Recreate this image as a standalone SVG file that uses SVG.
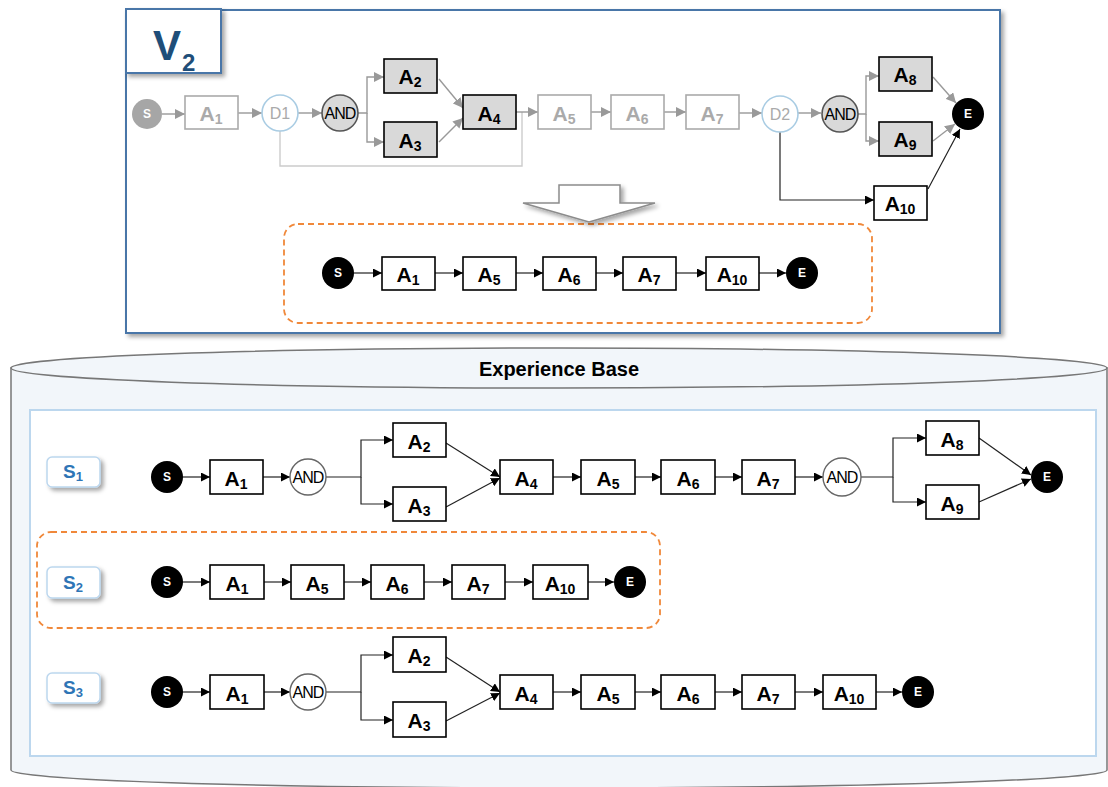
<svg xmlns="http://www.w3.org/2000/svg" width="1108" height="787" viewBox="0 0 1108 787">
<style>
text{font-family:"Liberation Sans",Arial,sans-serif}
.bx{fill:#fff;stroke:#000;stroke-width:1.6}
.gb{fill:#d9d9d9;stroke:#000;stroke-width:1.6}
.fb{fill:#fff;stroke:#aaa;stroke-width:1.6}
.lb{font-size:21px;font-weight:bold;text-anchor:middle;fill:#000}
.fl{fill:#aaa}
.sub{font-size:14px}
.blk{fill:#000}
.se{font-size:12px;font-weight:bold;fill:#fff;text-anchor:middle}
.and{fill:#fff;stroke:#666;stroke-width:1.4}
.gand{fill:#d9d9d9;stroke:#555;stroke-width:1.6}
.at{font-size:16px;text-anchor:middle;fill:#000;letter-spacing:-1px}
.dd{fill:#fff;stroke:#a9cce3;stroke-width:1.6}
.dt{font-size:16px;text-anchor:middle;fill:#aaa}
.c{fill:none;stroke:#222;stroke-width:1.2}
.cg{fill:none;stroke:#999;stroke-width:1.4}
.cl{fill:none;stroke:#ccc;stroke-width:1.4}
.dash{fill:none;stroke:#f0883a;stroke-width:1.8;stroke-dasharray:6 4}
.slb{fill:#fff;stroke:#bcd7ee;stroke-width:1.5}
.st{font-size:19px;font-weight:bold;fill:#2e75b6;text-anchor:middle}
</style>
<defs>
<marker id="ab" viewBox="0 0 10 10" refX="10" refY="5" markerWidth="9" markerHeight="9" markerUnits="userSpaceOnUse" orient="auto"><path d="M0,0 L10,5 L0,10 z" fill="#000"/></marker>
<marker id="ag" viewBox="0 0 10 10" refX="10" refY="5" markerWidth="10" markerHeight="10" markerUnits="userSpaceOnUse" orient="auto"><path d="M0,0 L10,5 L0,10 z" fill="#999"/></marker>
<filter id="sh" x="-10%" y="-10%" width="130%" height="140%"><feDropShadow dx="3" dy="3" stdDeviation="2" flood-color="#000" flood-opacity="0.35"/></filter>
</defs>

<!-- Experience base cylinder -->
<g id="cylinder">
<path d="M11,368 L11,770 A548,18 0 0 0 1107,770 L1107,368 Z" fill="#f2f6fa" stroke="#777" stroke-width="1.5"/>
<ellipse cx="559" cy="368" rx="548" ry="20" fill="#f2f6fa" stroke="#777" stroke-width="1.5"/>
<text x="559" y="376" font-size="20" font-weight="bold" text-anchor="middle" fill="#000">Experience Base</text>
<rect x="30" y="410" width="1066" height="346" fill="#fff" stroke="#bcd7ee" stroke-width="2"/>
</g>

<!-- Top panel -->
<g id="v2-panel">
<rect x="126" y="10" width="874" height="323" fill="#fff" stroke="#4a76a8" stroke-width="2" filter="url(#sh)"/>
<rect x="126" y="9" width="95" height="64" fill="#fff" stroke="#4a76a8" stroke-width="2" filter="url(#sh)"/>
<text x="167" y="60" font-size="42" font-weight="bold" fill="#1f4e79" text-anchor="middle">V</text>
<text x="182" y="71" font-size="24" font-weight="bold" fill="#1f4e79">2</text>
</g>

<rect class="dash" x="284" y="224" width="588" height="99" rx="14"/>
<rect class="dash" x="37" y="532" width="623" height="96" rx="14"/>

<g id="block-arrow">
<polygon points="559,185 620,185 620,203 655,203 589,222 523,203 559,203" fill="#fff" stroke="#8c8c8c" stroke-width="1.5" filter="url(#sh)"/>
</g>

<g id="connectors">
<!-- V2 graph -->
<path class="cl" d="M280,131 V166 H522 V112"/>
<path class="cg" d="M162,114 H185" marker-end="url(#ag)"/>
<path class="cg" d="M238,113 H262" marker-end="url(#ag)"/>
<path class="cg" d="M298,113 H322" marker-end="url(#ag)"/>
<path class="cg" d="M358,113 H367 V77 H384" marker-end="url(#ag)"/>
<path class="cg" d="M367,113 V142 H384" marker-end="url(#ag)"/>
<path class="cg" d="M439,79 L463,108" marker-end="url(#ag)"/>
<path class="cg" d="M439,142 L463,118" marker-end="url(#ag)"/>
<path class="cg" d="M516,112 H538" marker-end="url(#ag)"/>
<path class="cg" d="M591,112 H611" marker-end="url(#ag)"/>
<path class="cg" d="M664,112 H686" marker-end="url(#ag)"/>
<path class="cg" d="M739,113 H762" marker-end="url(#ag)"/>
<path class="cg" d="M798,113 H821" marker-end="url(#ag)"/>
<path class="cg" d="M858,114 H866 V76 H879" marker-end="url(#ag)"/>
<path class="cg" d="M866,114 V141 H879" marker-end="url(#ag)"/>
<path class="cg" d="M933,77 L956,103" marker-end="url(#ag)"/>
<path class="cg" d="M933,141 L955,124" marker-end="url(#ag)"/>
<path class="c" d="M780,132 V200 H874" marker-end="url(#ab)"/>
<path class="c" d="M928,189 L960,129" marker-end="url(#ab)"/>
<!-- result row -->
<path class="c" d="M354,273 H382" marker-end="url(#ab)"/>
<path class="c" d="M435,273 H463" marker-end="url(#ab)"/>
<path class="c" d="M516,273 H543" marker-end="url(#ab)"/>
<path class="c" d="M596,273 H623" marker-end="url(#ab)"/>
<path class="c" d="M676,273 H706" marker-end="url(#ab)"/>
<path class="c" d="M759,273 H786" marker-end="url(#ab)"/>
<!-- S1 -->
<path class="c" d="M183,477 H210" marker-end="url(#ab)"/>
<path class="c" d="M263,477 H290" marker-end="url(#ab)"/>
<path class="c" d="M326,477 H361 V440 H393" marker-end="url(#ab)"/>
<path class="c" d="M361,477 V504 H393" marker-end="url(#ab)"/>
<path class="c" d="M446,443 L500,477" marker-end="url(#ab)"/>
<path class="c" d="M446,507 L500,478" marker-end="url(#ab)"/>
<path class="c" d="M553,477 H581" marker-end="url(#ab)"/>
<path class="c" d="M635,477 H661" marker-end="url(#ab)"/>
<path class="c" d="M715,477 H742" marker-end="url(#ab)"/>
<path class="c" d="M795,477 H823" marker-end="url(#ab)"/>
<path class="c" d="M861,477 H893 V438 H926" marker-end="url(#ab)"/>
<path class="c" d="M893,477 V502 H926" marker-end="url(#ab)"/>
<path class="c" d="M979,438 L1031,475" marker-end="url(#ab)"/>
<path class="c" d="M979,502 L1031,479" marker-end="url(#ab)"/>
<!-- S2 -->
<path class="c" d="M183,582 H210" marker-end="url(#ab)"/>
<path class="c" d="M264,582 H291" marker-end="url(#ab)"/>
<path class="c" d="M344,582 H371" marker-end="url(#ab)"/>
<path class="c" d="M424,582 H452" marker-end="url(#ab)"/>
<path class="c" d="M505,582 H533" marker-end="url(#ab)"/>
<path class="c" d="M588,582 H614" marker-end="url(#ab)"/>
<!-- S3 -->
<path class="c" d="M183,692 H210" marker-end="url(#ab)"/>
<path class="c" d="M264,692 H290" marker-end="url(#ab)"/>
<path class="c" d="M326,692 H361 V655 H393" marker-end="url(#ab)"/>
<path class="c" d="M361,692 V720 H393" marker-end="url(#ab)"/>
<path class="c" d="M446,657 L500,692" marker-end="url(#ab)"/>
<path class="c" d="M446,721 L500,693" marker-end="url(#ab)"/>
<path class="c" d="M553,692 H581" marker-end="url(#ab)"/>
<path class="c" d="M635,692 H661" marker-end="url(#ab)"/>
<path class="c" d="M715,692 H742" marker-end="url(#ab)"/>
<path class="c" d="M795,692 H823" marker-end="url(#ab)"/>
<path class="c" d="M876,692 H902" marker-end="url(#ab)"/>
</g>

<!-- V2 graph nodes -->
<g id="v2-s"><circle cx="147" cy="114" r="15" fill="#a6a6a6"/><text class="se" x="147" y="118">S</text></g>
<g id="v2-a1"><rect class="fb" x="185" y="96" width="53" height="33"/><text class="lb fl" x="211" y="121">A<tspan class="sub" dy="3">1</tspan></text></g>
<g id="v2-d1"><circle class="dd" cx="280" cy="113" r="18"/><text class="dt" x="280" y="119">D1</text></g>
<g id="v2-and1"><circle class="gand" cx="340" cy="113" r="18"/><text class="at" x="340" y="119">AND</text></g>
<g id="v2-a2"><rect class="gb" x="384" y="59" width="53" height="34"/><text class="lb" x="410" y="84">A<tspan class="sub" dy="3">2</tspan></text></g>
<g id="v2-a3"><rect class="gb" x="384" y="122" width="53" height="35"/><text class="lb" x="410" y="148">A<tspan class="sub" dy="3">3</tspan></text></g>
<g id="v2-a4"><rect class="gb" x="463" y="95" width="53" height="34" stroke-width="2.2"/><text class="lb" x="489" y="121">A<tspan class="sub" dy="3">4</tspan></text></g>
<g id="v2-a5"><rect class="fb" x="538" y="95" width="53" height="34"/><text class="lb fl" x="564" y="121">A<tspan class="sub" dy="3">5</tspan></text></g>
<g id="v2-a6"><rect class="fb" x="611" y="95" width="53" height="34"/><text class="lb fl" x="637" y="121">A<tspan class="sub" dy="3">6</tspan></text></g>
<g id="v2-a7"><rect class="fb" x="686" y="95" width="53" height="34"/><text class="lb fl" x="712" y="121">A<tspan class="sub" dy="3">7</tspan></text></g>
<g id="v2-d2"><circle class="dd" cx="780" cy="114" r="18"/><text class="dt" x="780" y="120">D2</text></g>
<g id="v2-and2"><circle class="gand" cx="840" cy="114" r="18"/><text class="at" x="840" y="120">AND</text></g>
<g id="v2-a8"><rect class="gb" x="879" y="57" width="53" height="34"/><text class="lb" x="905" y="82">A<tspan class="sub" dy="3">8</tspan></text></g>
<g id="v2-a9"><rect class="gb" x="879" y="122" width="53" height="34"/><text class="lb" x="905" y="147">A<tspan class="sub" dy="3">9</tspan></text></g>
<g id="v2-a10"><rect class="bx" x="874" y="186" width="53" height="34"/><text class="lb" x="900" y="211">A<tspan class="sub" dy="3">10</tspan></text></g>
<g id="v2-e"><circle cx="968" cy="114" r="16" class="blk"/><text class="se" x="968" y="118">E</text></g>

<!-- Result of V2 -->
<g id="r-s"><circle cx="338" cy="273" r="16" class="blk"/><text class="se" x="338" y="277">S</text></g>
<g id="r-a1"><rect class="bx" x="382" y="257" width="53" height="33"/><text class="lb" x="408" y="282">A<tspan class="sub" dy="3">1</tspan></text></g>
<g id="r-a5"><rect class="bx" x="463" y="257" width="53" height="33"/><text class="lb" x="489" y="282">A<tspan class="sub" dy="3">5</tspan></text></g>
<g id="r-a6"><rect class="bx" x="543" y="257" width="53" height="33"/><text class="lb" x="569" y="282">A<tspan class="sub" dy="3">6</tspan></text></g>
<g id="r-a7"><rect class="bx" x="623" y="257" width="53" height="33"/><text class="lb" x="649" y="282">A<tspan class="sub" dy="3">7</tspan></text></g>
<g id="r-a10"><rect class="bx" x="706" y="257" width="53" height="33"/><text class="lb" x="732" y="282">A<tspan class="sub" dy="3">10</tspan></text></g>
<g id="r-e"><circle cx="802" cy="273" r="16" class="blk"/><text class="se" x="802" y="277">E</text></g>

<!-- Scenario labels -->
<g id="s1-label"><rect class="slb" x="47" y="457" width="53" height="30" rx="5" filter="url(#sh)"/><text class="st" x="73" y="478">S<tspan font-size="13" dy="3">1</tspan></text></g>
<g id="s2-label"><rect class="slb" x="47" y="567" width="53" height="31" rx="5" filter="url(#sh)"/><text class="st" x="73" y="589">S<tspan font-size="13" dy="3">2</tspan></text></g>
<g id="s3-label"><rect class="slb" x="47" y="673" width="53" height="30" rx="5" filter="url(#sh)"/><text class="st" x="73" y="694">S<tspan font-size="13" dy="3">3</tspan></text></g>

<!-- S1 -->
<g id="s1-s"><circle cx="167" cy="477" r="16" class="blk"/><text class="se" x="167" y="481">S</text></g>
<g id="s1-a1"><rect class="bx" x="210" y="460" width="53" height="34"/><text class="lb" x="236" y="486">A<tspan class="sub" dy="3">1</tspan></text></g>
<g id="s1-and1"><circle class="and" cx="308" cy="477" r="18"/><text class="at" x="308" y="483">AND</text></g>
<g id="s1-a2"><rect class="bx" x="393" y="423" width="53" height="34"/><text class="lb" x="419" y="449">A<tspan class="sub" dy="3">2</tspan></text></g>
<g id="s1-a3"><rect class="bx" x="393" y="487" width="53" height="34"/><text class="lb" x="419" y="513">A<tspan class="sub" dy="3">3</tspan></text></g>
<g id="s1-a4"><rect class="bx" x="500" y="460" width="53" height="34"/><text class="lb" x="526" y="486">A<tspan class="sub" dy="3">4</tspan></text></g>
<g id="s1-a5"><rect class="bx" x="581" y="460" width="54" height="34"/><text class="lb" x="608" y="486">A<tspan class="sub" dy="3">5</tspan></text></g>
<g id="s1-a6"><rect class="bx" x="661" y="460" width="54" height="34"/><text class="lb" x="688" y="486">A<tspan class="sub" dy="3">6</tspan></text></g>
<g id="s1-a7"><rect class="bx" x="742" y="460" width="53" height="34"/><text class="lb" x="768" y="486">A<tspan class="sub" dy="3">7</tspan></text></g>
<g id="s1-and2"><circle class="and" cx="842" cy="477" r="19"/><text class="at" x="842" y="483">AND</text></g>
<g id="s1-a8"><rect class="bx" x="926" y="421" width="53" height="34"/><text class="lb" x="952" y="447">A<tspan class="sub" dy="3">8</tspan></text></g>
<g id="s1-a9"><rect class="bx" x="926" y="485" width="53" height="34"/><text class="lb" x="952" y="511">A<tspan class="sub" dy="3">9</tspan></text></g>
<g id="s1-e"><circle cx="1047" cy="477" r="16" class="blk"/><text class="se" x="1047" y="481">E</text></g>

<!-- S2 -->
<g id="s2-s"><circle cx="167" cy="582" r="16" class="blk"/><text class="se" x="167" y="586">S</text></g>
<g id="s2-a1"><rect class="bx" x="210" y="565" width="54" height="34"/><text class="lb" x="237" y="591">A<tspan class="sub" dy="3">1</tspan></text></g>
<g id="s2-a5"><rect class="bx" x="291" y="565" width="53" height="34"/><text class="lb" x="317" y="591">A<tspan class="sub" dy="3">5</tspan></text></g>
<g id="s2-a6"><rect class="bx" x="371" y="565" width="53" height="34"/><text class="lb" x="397" y="591">A<tspan class="sub" dy="3">6</tspan></text></g>
<g id="s2-a7"><rect class="bx" x="452" y="565" width="53" height="34"/><text class="lb" x="478" y="591">A<tspan class="sub" dy="3">7</tspan></text></g>
<g id="s2-a10"><rect class="bx" x="533" y="565" width="55" height="34"/><text class="lb" x="560" y="591">A<tspan class="sub" dy="3">10</tspan></text></g>
<g id="s2-e"><circle cx="630" cy="582" r="16" class="blk"/><text class="se" x="630" y="586">E</text></g>

<!-- S3 -->
<g id="s3-s"><circle cx="167" cy="692" r="16" class="blk"/><text class="se" x="167" y="696">S</text></g>
<g id="s3-a1"><rect class="bx" x="210" y="675" width="54" height="34"/><text class="lb" x="237" y="701">A<tspan class="sub" dy="3">1</tspan></text></g>
<g id="s3-and1"><circle class="and" cx="308" cy="692" r="18"/><text class="at" x="308" y="698">AND</text></g>
<g id="s3-a2"><rect class="bx" x="393" y="637" width="53" height="35"/><text class="lb" x="419" y="663">A<tspan class="sub" dy="3">2</tspan></text></g>
<g id="s3-a3"><rect class="bx" x="393" y="702" width="53" height="35"/><text class="lb" x="419" y="728">A<tspan class="sub" dy="3">3</tspan></text></g>
<g id="s3-a4"><rect class="bx" x="500" y="675" width="53" height="34"/><text class="lb" x="526" y="701">A<tspan class="sub" dy="3">4</tspan></text></g>
<g id="s3-a5"><rect class="bx" x="581" y="675" width="54" height="34"/><text class="lb" x="608" y="701">A<tspan class="sub" dy="3">5</tspan></text></g>
<g id="s3-a6"><rect class="bx" x="661" y="675" width="54" height="34"/><text class="lb" x="688" y="701">A<tspan class="sub" dy="3">6</tspan></text></g>
<g id="s3-a7"><rect class="bx" x="742" y="675" width="53" height="34"/><text class="lb" x="768" y="701">A<tspan class="sub" dy="3">7</tspan></text></g>
<g id="s3-a10"><rect class="bx" x="823" y="675" width="53" height="34"/><text class="lb" x="849" y="701">A<tspan class="sub" dy="3">10</tspan></text></g>
<g id="s3-e"><circle cx="918" cy="692" r="16" class="blk"/><text class="se" x="918" y="696">E</text></g>
</svg>
